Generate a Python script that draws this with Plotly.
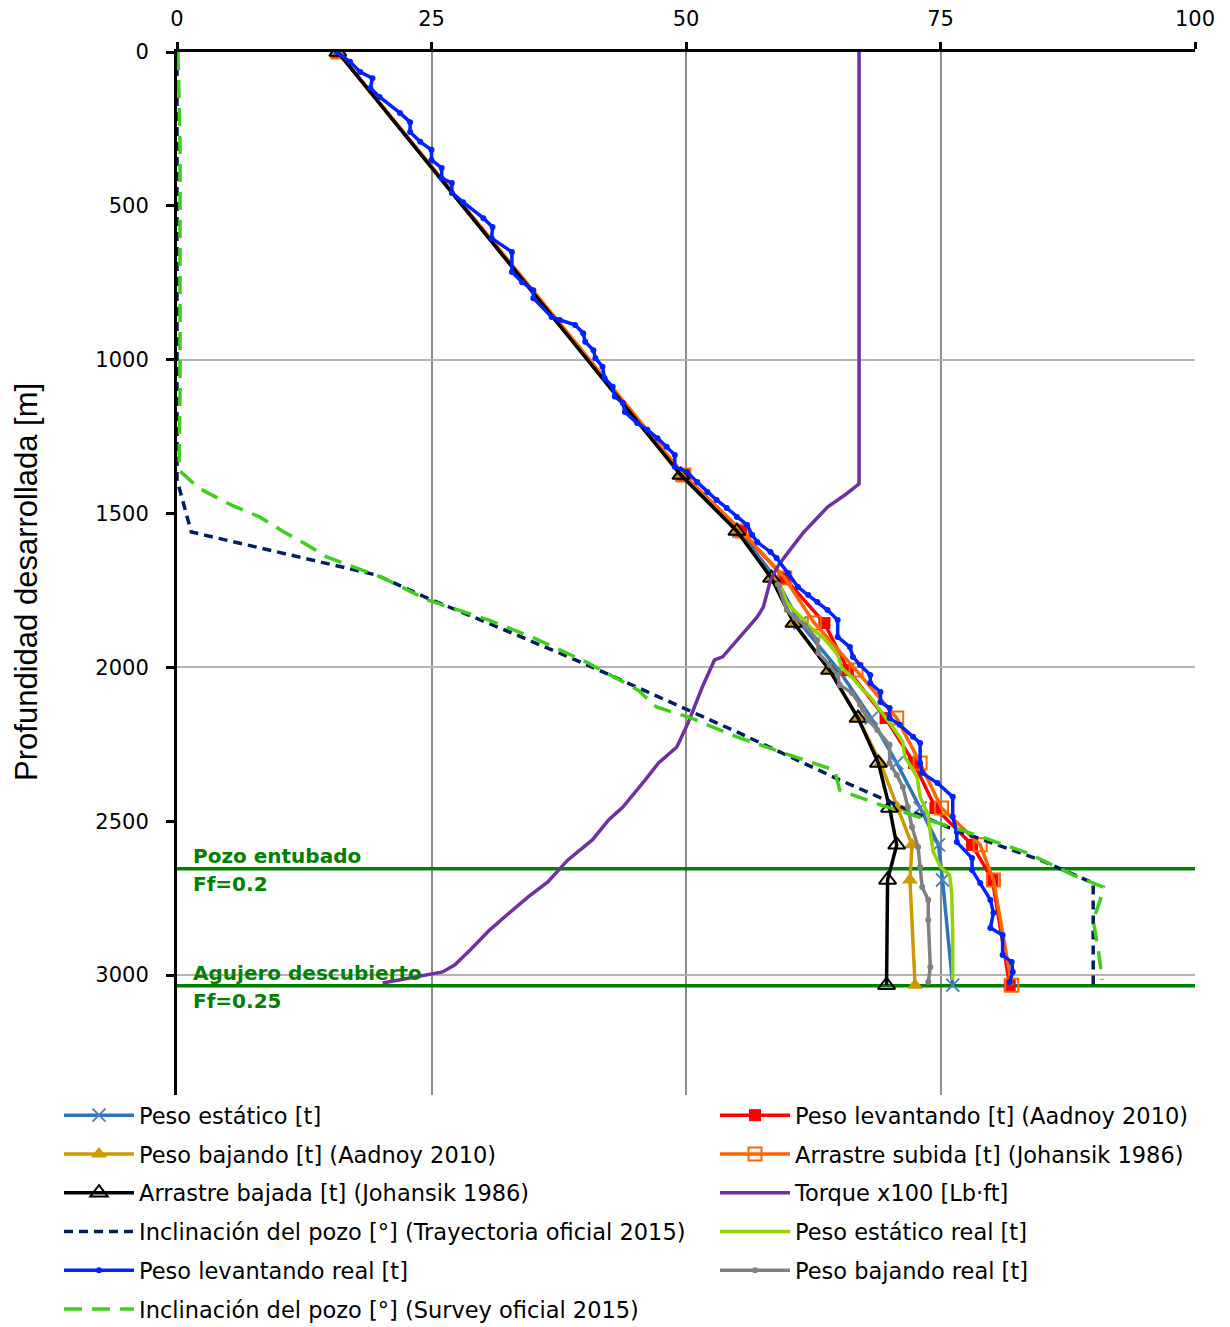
import plotly.graph_objects as go

# ---------------- data ----------------
model_depth = [0, 1375, 1557, 1710, 1856, 2009, 2165, 2311, 2457, 2577, 2691, 3033]
peso_estatico = [15.8, 49.6, 55.2, 58.8, 61.2, 65.0, 68.2, 70.7, 73.0, 74.8, 75.2, 76.2]
peso_levantando = [15.8, 49.7, 55.4, 59.7, 63.6, 65.9, 69.6, 72.4, 74.5, 78.1, 80.1, 81.8]
peso_bajando = [15.8, 49.5, 55.0, 58.4, 60.6, 64.1, 66.9, 69.1, 70.8, 72.2, 72.0, 72.5]
arrastre_subida = [15.8, 49.8, 55.5, 59.7, 62.6, 66.7, 70.7, 73.0, 75.1, 78.9, 80.2, 82.0]
arrastre_bajada = [15.8, 49.5, 55.0, 58.4, 60.6, 64.1, 66.9, 68.9, 70.0, 70.7, 69.8, 69.7]

torque_depth = [0, 1404, 1440, 1479, 1521, 1563, 1619, 1667, 1716, 1804, 1836, 1901, 1966,
                1976, 2064, 2181, 2259, 2311, 2366, 2454, 2496, 2561, 2626, 2698, 2746,
                2805, 2854, 2919, 2967, 2990, 3026]
torque = [67.0, 67.0, 65.6, 63.9, 62.7, 61.5, 60.2, 59.1, 58.3, 57.6, 57.0, 55.3, 53.6,
          52.8, 51.6, 50.2, 49.1, 47.3, 46.0, 43.8, 42.4, 40.8, 38.4, 36.4, 34.5,
          32.4, 30.7, 28.8, 27.3, 26.1, 20.2]

incl_tray_depth = [0, 1390, 1560, 1612, 1658, 1700, 1775, 1869, 1992, 2139, 2210, 2366,
                   2522, 2626, 2701, 3033]
incl_tray = [0, 0, 1.4, 8.1, 14.0, 19.6, 24.6, 31.5, 40.3, 50.2, 55.0, 65.1,
             75.9, 84.8, 90.0, 90.0]

incl_surv_depth = [0, 300, 700, 1100, 1359, 1417, 1472, 1511, 1560, 1602, 1641, 1677, 1710,
                   1781, 1846, 1905, 1986, 2074, 2129, 2161, 2226, 2308, 2334, 2399,
                   2447, 2535, 2603, 2675, 2714, 2756, 2821, 2919, 3016]
incl_surv = [0.1, 0.3, 0.3, 0.3, 0.2, 2.1, 5.3, 8.1, 10.5, 12.8, 14.7, 17.6, 20.3,
             24.6, 30.6, 35.1, 40.4, 45.3, 47.1, 50.2, 55.0, 62.2, 64.6, 65.1,
             69.1, 77.6, 83.5, 88.0, 91.0, 90.7, 90.0, 90.5, 90.9]

lev_real_depth = [0, 32, 65, 85, 117, 146, 198, 228, 260, 292, 318, 351, 377, 410, 426, 458,
                  488, 540, 569, 605, 650, 715, 748, 774, 800, 861, 871, 887, 914, 942, 969,
                  995, 1023, 1060, 1088, 1120, 1141, 1170, 1206, 1228, 1255, 1283, 1310,
                  1348, 1365, 1398, 1430, 1456, 1482, 1511, 1537, 1570, 1593, 1625, 1645,
                  1693, 1739, 1765, 1788, 1814, 1846, 1901, 1934, 1966, 1992, 2025, 2051,
                  2080, 2113, 2132, 2165, 2187, 2226, 2246, 2311, 2343, 2376, 2421, 2486,
                  2535, 2568, 2620, 2659, 2701, 2756, 2798, 2847, 2870, 2935, 2958, 2990,
                  3023]
lev_real = [15.7, 17.0, 18.0, 19.2, 19.0, 19.9, 21.9, 22.9, 22.9, 23.9, 25.0, 25.0, 26.0,
            26.0, 27.0, 27.0, 28.1, 30.1, 31.0, 30.9, 32.9, 32.9, 33.9, 35.0, 35.0, 36.8,
            37.6, 39.1, 39.9, 40.1, 40.9, 41.1, 41.8, 42.0, 42.8, 43.0, 43.8, 44.0, 45.2,
            46.2, 47.2, 48.1, 48.9, 48.9, 50.1, 51.1, 52.1, 53.0, 54.0, 55.0, 56.0, 56.5,
            57.0, 58.3, 58.9, 60.0, 61.0, 62.0, 62.9, 63.9, 64.9, 64.9, 66.1, 66.4, 67.1,
            68.1, 68.1, 69.1, 69.1, 70.0, 70.0, 71.0, 72.3, 73.0, 73.0, 73.2, 74.7, 76.2,
            76.2, 76.6, 76.6, 78.1, 78.1, 78.9, 79.9, 80.2, 79.9, 81.1, 81.1, 82.0, 82.1,
            81.8]

baj_real_depth = [1730, 1814, 1840, 1862, 1911, 1953, 1992, 2025, 2057, 2083, 2122, 2139,
                  2171, 2204, 2252, 2311, 2350, 2389, 2454, 2519, 2584, 2649, 2714, 2756,
                  2821, 2974, 3023]
baj_real = [59.0, 59.9, 60.7, 61.7, 62.9, 63.0, 64.1, 64.9, 65.1, 66.3, 67.1, 67.4,
            67.9, 68.8, 70.0, 70.0, 70.7, 71.3, 71.8, 72.2, 72.8, 73.0, 73.2, 73.8,
            73.8, 74.0, 73.8]

est_real_depth = [1740, 1788, 1807, 1869, 1905, 1934, 1960, 2002, 2035, 2074, 2096, 2139,
                  2181, 2213, 2243, 2291, 2356, 2421, 2480, 2538, 2600, 2649, 2675, 2733,
                  2863, 3016]
est_real = [59.3, 59.9, 60.4, 62.2, 63.5, 64.3, 64.9, 65.3, 66.4, 67.4, 68.1, 69.1,
            70.0, 70.7, 71.3, 71.5, 72.7, 73.0, 73.8, 74.0, 74.3, 75.0, 75.9, 76.1,
            76.2, 76.2]

zone_depths = [2655, 3035]
zone_labels = [("Pozo entubado", "Ff=0.2"), ("Agujero descubierto", "Ff=0.25")]

x_ticks = [0, 25, 50, 75, 100]
y_ticks = [0, 500, 1000, 1500, 2000, 2500, 3000]
y_title = "Profundidad desarrollada [m]"

# ---------------- figure ----------------
TICKFONT = "DejaVu Sans"
TITLEFONT = "Liberation Sans"
fig = go.Figure()

for d in zone_depths:
    fig.add_trace(go.Scatter(x=[0, 100], y=[d, d], mode="lines",
                             line=dict(color="#008000", width=3.5),
                             showlegend=False, hoverinfo="skip"))

LW = 3.5
traces = [
    dict(name="Peso estático [t]", x=peso_estatico, y=model_depth, color="#2e75b6",
         marker=dict(symbol="x-thin", size=13, line=dict(width=2, color="#4f81bd")), legend="legend", mode="lines+markers"),
    dict(name="Peso levantando [t] (Aadnoy 2010)", x=peso_levantando, y=model_depth, color="#ff0000",
         marker=dict(symbol="square", size=12, color="#ff0000"), legend="legend2", mode="lines+markers"),
    dict(name="Peso bajando [t] (Aadnoy 2010)", x=peso_bajando, y=model_depth, color="#cc9900",
         marker=dict(symbol="triangle-up", size=14, color="#cc9900"), legend="legend", mode="lines+markers"),
    dict(name="Arrastre subida [t] (Johansik 1986)", x=arrastre_subida, y=model_depth, color="#ff6600",
         marker=dict(symbol="square-open", size=13, color="#ff6600", line=dict(width=2)), legend="legend2", mode="lines+markers"),
    dict(name="Arrastre bajada [t] (Johansik 1986)", x=arrastre_bajada, y=model_depth, color="#000000",
         marker=dict(symbol="triangle-up-open", size=15, color="#000000", line=dict(width=2)), legend="legend", mode="lines+markers"),
    dict(name="Torque x100 [Lb·ft]", x=torque, y=torque_depth, color="#7030a0",
         marker=None, legend="legend2", mode="lines"),
    dict(name="Inclinación del pozo [°] (Trayectoria oficial 2015)", x=incl_tray, y=incl_tray_depth, color="#002060",
         marker=None, legend="legend", mode="lines", dash="9px,6px"),
    dict(name="Peso estático real [t]", x=est_real, y=est_real_depth, color="#92d400",
         marker=dict(symbol="circle", size=4, color="#92d400"), legend="legend2", mode="lines"),
    dict(name="Peso levantando real [t]", x=lev_real, y=lev_real_depth, color="#0022ff",
         marker=dict(symbol="circle", size=6, color="#0022ff"), legend="legend", mode="lines+markers"),
    dict(name="Peso bajando real [t]", x=baj_real, y=baj_real_depth, color="#808080",
         marker=dict(symbol="circle", size=6, color="#808080"), legend="legend2", mode="lines+markers"),
    dict(name="Inclinación del pozo [°] (Survey oficial 2015)", x=incl_surv, y=incl_surv_depth, color="#3ecf1c",
         marker=None, legend="legend", mode="lines", dash="18px,10px"),
]

for i, t in enumerate(traces):
    kw = dict(x=t["x"], y=t["y"], name=t["name"], mode=t["mode"],
              line=dict(color=t["color"], width=LW, dash=t.get("dash", "solid")),
              legend=t["legend"], legendgroup="g%d" % i, hoverinfo="skip")
    if t["marker"] is not None:
        kw["marker"] = t["marker"]
    fig.add_trace(go.Scatter(**kw))

# zone annotations
for d, (top, bot) in zip(zone_depths, zone_labels):
    fig.add_annotation(x=1.4, y=d, text="<b>%s</b>" % top, showarrow=False,
                       xanchor="left", yanchor="bottom", yshift=-1,
                       font=dict(family=TICKFONT, size=20, color="#008000"))
    fig.add_annotation(x=1.4, y=d, text="<b>%s</b>" % bot, showarrow=False,
                       xanchor="left", yanchor="top", yshift=-1,
                       font=dict(family=TICKFONT, size=20, color="#008000"))

# y-axis title as rotated text
fig.add_annotation(xref="paper", yref="paper", x=-0.1473, y=0.492, text=y_title,
                   textangle=-90, showarrow=False, xanchor="center", yanchor="middle",
                   font=dict(family=TITLEFONT, size=31, color="black"))

W, H = 1230, 1327
fig.update_layout(
    width=W, height=H,
    margin=dict(l=169, r=43, t=44, b=240, autoexpand=False),
    paper_bgcolor="white", plot_bgcolor="white",
    font=dict(family=TICKFONT, size=21, color="black"),
    xaxis=dict(side="top", range=[0, 100], tickvals=x_ticks, showgrid=True,
               gridcolor="#8c8c8c", gridwidth=2, showline=True, linecolor="black",
               linewidth=3, ticks="outside", ticklen=7, tickwidth=3, tickcolor="black",
               zeroline=False, tickfont=dict(size=21, family=TICKFONT),
               ticklabelstandoff=8),
    yaxis=dict(range=[3390, 0], tickvals=y_ticks, showgrid=False, showline=True,
               linecolor="black", linewidth=3, ticks="outside", ticklen=8, tickwidth=3,
               tickcolor="black", zeroline=False, tickfont=dict(size=21, family=TICKFONT),
               ticklabelstandoff=13),
    yaxis2=dict(overlaying="y", matches="y", range=[3390, 0], dtick=1000, tick0=0,
                showgrid=True, gridcolor="#b4b4b4", gridwidth=2, showticklabels=False,
                showline=False, zeroline=False, ticks=""),
    legend=dict(xref="container", yref="container", x=51 / W, y=1 - 1086 / H,
                xanchor="left", yanchor="top", orientation="v",
                font=dict(size=22.5, family=TICKFONT), itemwidth=70, tracegroupgap=6.5,
                bgcolor="rgba(0,0,0,0)"),
    legend2=dict(xref="container", yref="container", x=707 / W, y=1 - 1086 / H,
                 xanchor="left", yanchor="top", orientation="v",
                 font=dict(size=22.5, family=TICKFONT), itemwidth=70, tracegroupgap=6.5,
                 bgcolor="rgba(0,0,0,0)"),
)

# empty trace on yaxis2 so that its grid is drawn
fig.add_trace(go.Scatter(x=[None], y=[None], yaxis="y2", showlegend=False, hoverinfo="skip"))

fig.write_html("out.html")
